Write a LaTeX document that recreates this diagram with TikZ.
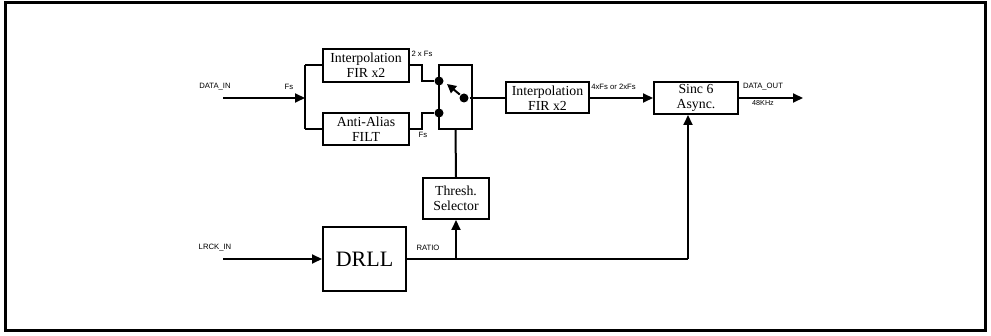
\documentclass[tikz,border=0pt]{standalone}
\usepackage{fontspec}
\setmainfont{Liberation Serif}
\newfontfamily\labfont{Liberation Sans}
\usetikzlibrary{arrows.meta}
\begin{document}
\begin{tikzpicture}[x=1pt,y=-1pt,
  line width=2pt,
  blk/.style={draw,line width=2pt,align=center,inner sep=0pt,font=\fontsize{13.8}{15}\selectfont},
  lab/.style={font=\labfont\fontsize{7.7}{8}\selectfont,inner sep=0pt},
  arr/.style={-{Triangle[length=10pt,width=9pt]}},
  dot/.style={circle,fill,inner sep=0pt,minimum size=9pt}]
\useasboundingbox (0,0) rectangle (991,336);
\draw[line width=3pt] (5,3) rectangle (985,331);
% blocks
\node[blk,minimum width=86pt,minimum height=33pt] (interp1) at (366,65.5) {Interpolation\\FIR x2};
\node[blk,minimum width=86pt,minimum height=32pt] (aa) at (366,129) {Anti-Alias\\FILT};
\node[draw,line width=2pt,minimum width=33pt,minimum height=64pt,inner sep=0pt] (sw) at (455.5,97) {};
\node[blk,minimum width=83pt,minimum height=31pt] (interp2) at (547.5,98) {Interpolation\\FIR x2};
\node[blk,minimum width=84pt,minimum height=32pt] (sinc) at (696,98) {Sinc 6\\Async.};
\node[blk,minimum width=66pt,minimum height=41pt] (thresh) at (456,198.5) {Thresh.\\Selector};
\node[blk,minimum width=83pt,minimum height=64pt,font=\fontsize{22}{24}\selectfont] (drll) at (364.5,259) {DRLL};
% coordinates
\coordinate (datain) at (223,98);
\coordinate (bus) at (305,98);
\coordinate (bustop) at (305,65.5);
\coordinate (busbot) at (305,129);
\coordinate (k1) at (422,65.5);
\coordinate (k2) at (422,81);
\coordinate (k3) at (422,129);
\coordinate (k4) at (422,113);
\node[dot] (d1) at (439,81) {};
\node[dot] (d2) at (439,113) {};
\node[dot] (d3) at (464,98) {};
\coordinate (swtip) at (447,84);
\coordinate (out) at (803,98);
\coordinate (lrck) at (223,259);
\coordinate (branch) at (456,259);
\coordinate (turn) at (688,259);
% connectors
\draw[arr] (datain) -- (bus);
\draw (bustop) -- (busbot);
\draw (bustop) -- (interp1.west);
\draw (busbot) -- (aa.west);
\draw (interp1.east) -- (k1) -- (k2) -- (d1);
\draw (aa.east) -- (k3) -- (k4) -- (d2);
\draw[-{Triangle[length=9pt,width=9pt]}] (d3) -- (swtip);
\draw (d3) -- (interp2.west);
\draw[arr] (interp2.east) -- (sinc.west);
\draw[arr] (sinc.east) -- (out);
\draw (sw.south) -- (thresh.north);
\draw[arr] (lrck) -- (drll.west);
\draw (drll.east) -- (turn);
\draw[arr] (turn) -- (turn |- sinc.south);
\draw[arr] (branch) -- (thresh.south);
% labels
\node[lab] (l1) at (215,87) {DATA\_IN};
\node[lab] (l2) at (289,87) {Fs};
\node[lab] (l3) at (422,54) {2 x Fs};
\node[lab] (l4) at (423,135) {Fs};
\node[lab] (l5) at (613.5,87) {4xFs or 2xFs};
\node[lab] (l6) at (763,87) {DATA\_OUT};
\node[lab,font=\labfont\fontsize{7.2}{8}\selectfont] (l7) at (763,103) {48KHz};
\node[lab] (l8) at (215,248) {LRCK\_IN};
\node[lab] (l9) at (428,248) {RATIO};
\end{tikzpicture}
\end{document}
